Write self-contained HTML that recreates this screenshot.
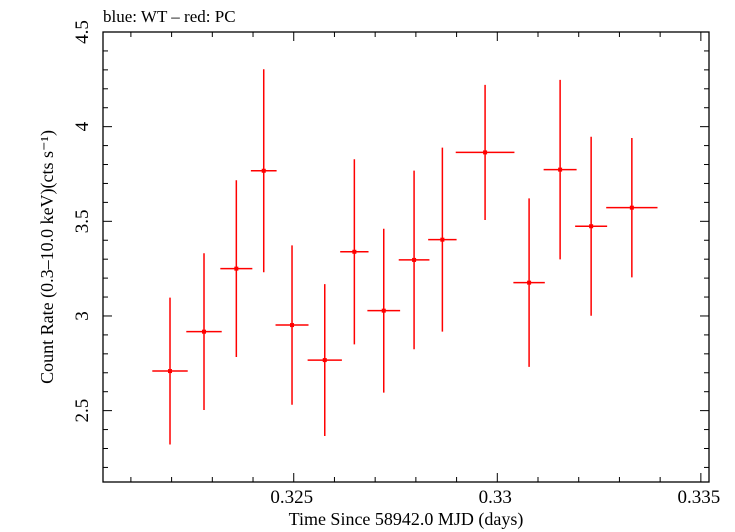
<!DOCTYPE html>
<html><head><meta charset="utf-8"><style>
body{margin:0;background:#fff}
svg{display:block;font-family:"Liberation Serif",serif}
</style></head><body>
<svg id="c" width="735" height="532"></svg>
<script>
const times=[0.321961,0.322796,0.323590,0.324263,0.324958,0.325762,0.326489,0.327211,0.327956,0.328651,0.329700,0.330781,0.331543,0.332305,0.333305];
const halfWidths=[0.000435,0.000435,0.000393,0.000316,0.000405,0.000421,0.000348,0.000402,0.000377,0.000349,0.000721,0.000386,0.000405,0.000393,0.00063];
const rates=[2.709,2.917,3.250,3.767,2.952,2.767,3.339,3.028,3.296,3.403,3.864,3.176,3.773,3.474,3.572];
const rateErrs=[0.388,0.414,0.467,0.536,0.421,0.401,0.489,0.433,0.472,0.486,0.357,0.445,0.474,0.473,0.368];
const xTickLabels=["0.325","0.33","0.335"];
const yTickLabels=["2.5","3","3.5","4","4.5"];

const NS="http://www.w3.org/2000/svg";
const svg=document.getElementById('c');
const L=103,R=709,T=32,B=482;
const x0=0.320315,x1=0.33520,y0=2.123,y1=4.5;
const X=v=>L+(v-x0)/(x1-x0)*(R-L);
const Y=v=>B-(v-y0)/(y1-y0)*(B-T);
function mk(tag,attrs,name,txt){const e=document.createElementNS(NS,tag);for(const k in attrs)e.setAttribute(k,attrs[k]);


if(txt!==undefined)e.textContent=txt;svg.appendChild(e);return e;}
mk('rect',{x:L,y:T,width:R-L,height:B-T,fill:'none',stroke:'#000','stroke-width':1.3},'plot-frame');
for(let i=0;i<=15;i++){const v=0.321+i*0.001;if(v>x1)break;const major=Math.abs((v*1000)%5)<1e-6||Math.abs((v*1000)%5-5)<1e-6;const len=major?9:5;const px=X(v);
mk('line',{x1:px,y1:B,x2:px,y2:B-len,stroke:'#000','stroke-width':1},'x-tick');
mk('line',{x1:px,y1:T,x2:px,y2:T+len,stroke:'#000','stroke-width':1},'x-tick-top');}
xTickLabels.forEach(s=>{mk('text',{x:X(parseFloat(s))-2,y:B+21,'font-size':19,'text-anchor':'middle'},'x-tick-label',s);});
for(let i=22;i<=45;i++){const v=i/10;const major=i%5===0;const len=major?9:5;const py=Y(v);
mk('line',{x1:L,y1:py,x2:L+len,y2:py,stroke:'#000','stroke-width':1},'y-tick');
mk('line',{x1:R,y1:py,x2:R-len,y2:py,stroke:'#000','stroke-width':1},'y-tick-right');}
yTickLabels.forEach(s=>{const py=Y(parseFloat(s));mk('text',{x:0,y:0,'font-size':19,'text-anchor':'middle',transform:`translate(88,${py}) rotate(-90)`},'y-tick-label',s);});
mk('text',{x:0,y:0,'font-size':18,'text-anchor':'middle',transform:`translate(53,257) rotate(-90)`},'y-axis-title','Count Rate (0.3\u201310.0 keV)(cts s\u207B\u00B9)');
mk('text',{x:406,y:525,'font-size':18,'text-anchor':'middle'},'x-axis-title','Time Since 58942.0 MJD (days)');
mk('text',{x:103,y:22,'font-size':17},'chart-title','blue: WT \u2013 red: PC');
times.forEach((t,i)=>{const px=X(t),py=Y(rates[i]);
mk('line',{x1:X(t-halfWidths[i]),y1:py,x2:X(t+halfWidths[i]),y2:py,stroke:'#f00','stroke-width':1.5},'x-error-bar');
mk('line',{x1:px,y1:Y(rates[i]+rateErrs[i]),x2:px,y2:Y(rates[i]-rateErrs[i]),stroke:'#f00','stroke-width':1.5},'y-error-bar');
mk('rect',{x:px-2,y:py-2,width:4,height:4,fill:'#f00'},'data-point');});
</script>
</body></html>
